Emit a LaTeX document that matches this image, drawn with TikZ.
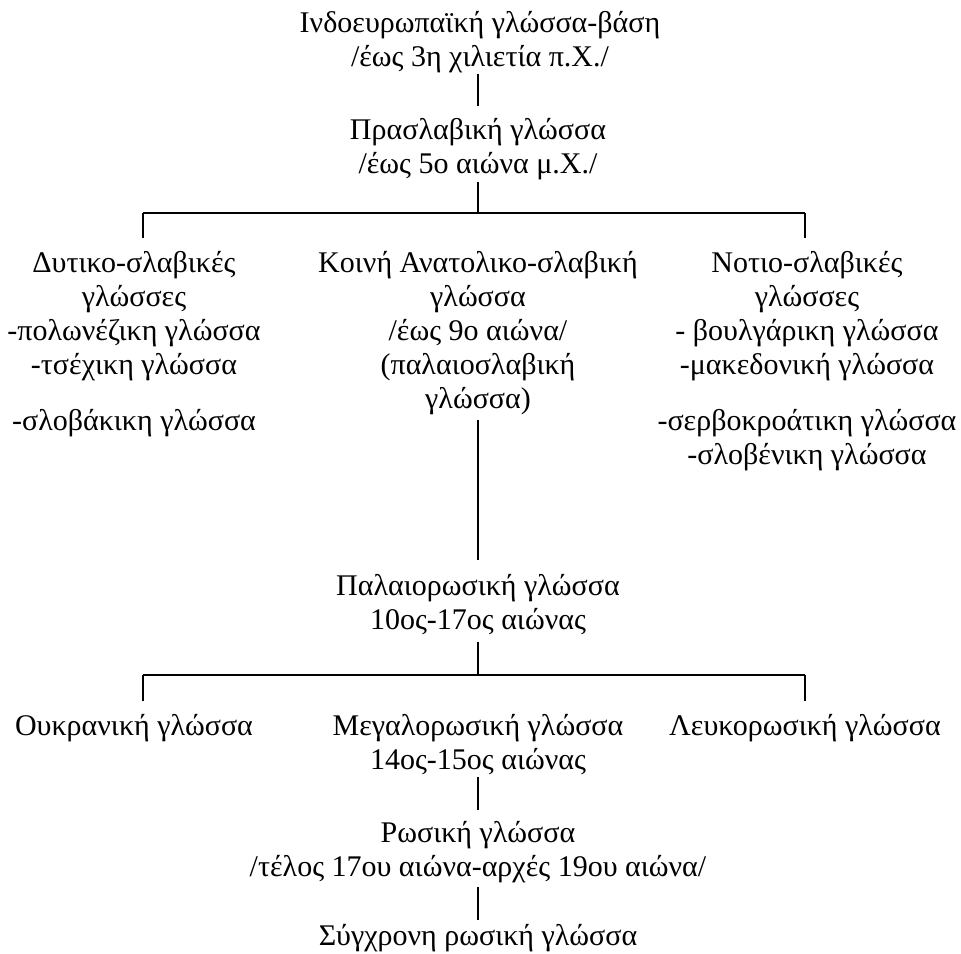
\documentclass[tikz,border=0pt]{standalone}
\usepackage{fontspec}
\setmainfont{Liberation Serif}
\begin{document}
\begin{tikzpicture}[x=1pt,y=-1pt,
  lbl/.style={align=center, inner sep=0pt, anchor=north, font=\fontsize{30}{34}\selectfont},
  conn/.style={line width=2.2pt}]
\useasboundingbox (0,0) rectangle (961,953);
% nodes
\node[lbl] (ie) at (480,8.2) {\strut Ινδοευρωπαϊκή γλώσσα-βάση\\\strut/έως 3η χιλιετία π.Χ./};
\node[lbl] (pras) at (478,115.2) {\strut Πρασλαβική γλώσσα\\\strut/έως 5ο αιώνα μ.Χ./};
\node[lbl] (west) at (134,248.2) {\strut Δυτικο-σλαβικές\\\strut γλώσσες\\\strut -πολωνέζικη γλώσσα\\\strut -τσέχικη γλώσσα\\[22pt]\strut -σλοβάκικη γλώσσα};
\node[lbl] (east) at (478,248.2) {\strut Κοινή Ανατολικο-σλαβική\\\strut γλώσσα\\\strut /έως 9ο αιώνα/\\\strut (παλαιοσλαβική\\\strut γλώσσα)};
\node[lbl] (south) at (807,248.2) {\strut Νοτιο-σλαβικές\\\strut γλώσσες\\\strut - βουλγάρικη γλώσσα\\\strut -μακεδονική γλώσσα\\[22pt]\strut -σερβοκροάτικη γλώσσα\\\strut -σλοβένικη γλώσσα};
\node[lbl] (old) at (478,571.2) {\strut Παλαιορωσική γλώσσα\\\strut 10ος-17ος αιώνας};
\node[lbl] (ukr) at (134,711.2) {\strut Ουκρανική γλώσσα};
\node[lbl] (great) at (478,711.2) {\strut Μεγαλορωσική γλώσσα\\\strut 14ος-15ος αιώνας};
\node[lbl] (bel) at (805,711.2) {\strut Λευκορωσική γλώσσα};
\node[lbl] (rus) at (478,818.2) {\strut Ρωσική γλώσσα\\\strut /τέλος 17ου αιώνα-αρχές 19ου αιώνα/};
\node[lbl] (mod) at (478,921.2) {\strut Σύγχρονη ρωσική γλώσσα};
% junctions
\coordinate (j1) at (478,213);
\coordinate (j1l) at (143,213);
\coordinate (j1r) at (805,213);
\coordinate (j2) at (478,675);
\coordinate (j2l) at (143,675);
\coordinate (j2r) at (805,675);
% connectors
\draw[conn, shorten <=-3pt, shorten >=9pt] (ie.south -| pras.north) -- (pras.north);
\draw[conn, shorten <=-2pt] (pras.south) -- (j1);
\draw[conn] (j1l) -- (j1r);
\draw[conn, shorten >=10pt] (j1l) -- (j1l |- west.north);
\draw[conn, shorten >=10pt] (j1r) -- (j1r |- south.north);
\draw[conn, shorten <=1pt, shorten >=11pt] (east.south) -- (old.north);
\draw[conn, shorten <=2pt] (old.south) -- (j2);
\draw[conn] (j2l) -- (j2r);
\draw[conn, shorten >=10pt] (j2l) -- (j2l |- ukr.north);
\draw[conn, shorten >=10pt] (j2r) -- (j2r |- bel.north);
\draw[conn, shorten <=-3pt, shorten >=8pt] (great.south) -- (rus.north);
\draw[conn, shorten >=1pt] (rus.south) -- (mod.north);
\end{tikzpicture}
\end{document}
